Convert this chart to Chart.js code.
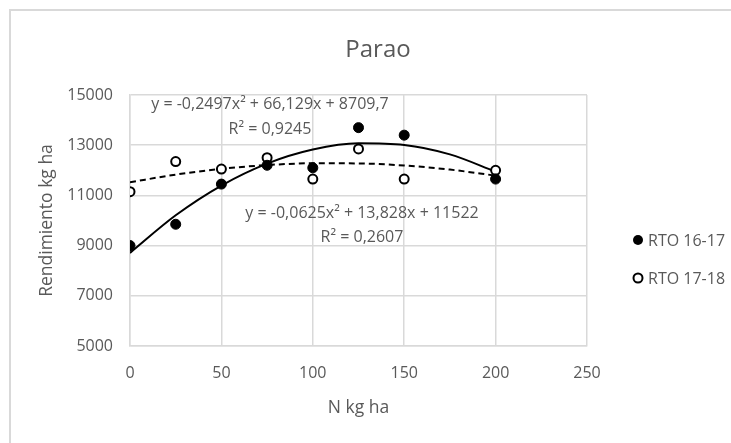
<!DOCTYPE html>
<html>
<head>
<meta charset="utf-8">
<script src="https://cdn.jsdelivr.net/npm/chart.js@4.4.1/dist/chart.umd.min.js"></script>
<style>
  html, body { margin: 0; padding: 0; background: #ffffff; }
  canvas { display: block; }
</style>
</head>
<body>
<canvas id="c" width="731" height="443"></canvas>
<script>
// ---- data ----
const nValues = [0, 25, 50, 75, 100, 125, 150, 200];
const rto1617 = [9000, 9850, 11450, 12200, 12100, 13700, 13400, 11650];
const rto1718 = [11150, 12350, 12050, 12500, 11650, 12850, 11650, 12000];
const trendX = [0, 25, 50, 75, 100, 125, 150, 175, 200];
const trend1617 = [8710, 10207, 11392, 12265, 12826, 13074, 13011, 12635, 11948];
const trend1718 = [11522, 11829, 12057, 12208, 12280, 12274, 12190, 12028, 11788];
const seriesNames = ['RTO 16-17', 'RTO 17-18'];
const chartTitle = 'Parao';
const xTitle = 'N kg ha';
const yTitle = 'Rendimiento kg ha';
const eq1617 = ['y = -0,2497x² + 66,129x + 8709,7', 'R² = 0,9245'];
const eq1718 = ['y = -0,0625x² + 13,828x + 11522', 'R² = 0,2607'];
const xTicks = [0, 50, 100, 150, 200, 250];
const yTicks = [5000, 7000, 9000, 11000, 13000, 15000];

const toXY = (xs, ys) => xs.map((x, i) => ({ x: x, y: ys[i] }));

const TXT = '#595959';
const GRID = '#d9d9d9';
const FONT = "'Open Sans', 'Noto Sans', sans-serif";

const decor = {
  id: 'decor',
  beforeDraw(chart) {
    const ctx = chart.ctx;
    ctx.save();
    ctx.fillStyle = '#ffffff';
    ctx.fillRect(0, 0, chart.width, chart.height);
    ctx.strokeStyle = GRID;
    ctx.lineWidth = 2;
    ctx.strokeRect(10, 10, chart.width + 20, chart.height + 20);
    ctx.restore();
  },
  afterDraw(chart) {
    const ctx = chart.ctx;
    ctx.save();
    ctx.fillStyle = TXT;
    ctx.textBaseline = 'alphabetic';
    // title
    ctx.textAlign = 'center';
    ctx.font = '24px ' + FONT;
    ctx.fillText(chartTitle, 378, 57);
    // equations
    ctx.font = '16px ' + FONT;
    ctx.fillText(eq1617[0], 270, 109);
    ctx.fillText(eq1617[1], 270, 134);
    ctx.fillText(eq1718[0], 362, 217.5);
    ctx.fillText(eq1718[1], 362, 241.5);
    // legend
    ctx.textAlign = 'left';
    ctx.fillText(seriesNames[0], 648, 246);
    ctx.fillText(seriesNames[1], 648, 284);
    ctx.beginPath();
    ctx.arc(638, 240, 5, 0, Math.PI * 2);
    ctx.fillStyle = '#000000';
    ctx.fill();
    ctx.beginPath();
    ctx.arc(638, 278, 4.5, 0, Math.PI * 2);
    ctx.fillStyle = '#ffffff';
    ctx.fill();
    ctx.lineWidth = 2;
    ctx.strokeStyle = '#000000';
    ctx.stroke();
    ctx.restore();
  }
};

new Chart(document.getElementById('c'), {
  type: 'scatter',
  data: {
    datasets: [
      {
        label: seriesNames[0],
        data: toXY(nValues, rto1617),
        pointRadius: 5,
        pointBackgroundColor: '#000000',
        pointBorderColor: '#000000',
        pointBorderWidth: 1,
        showLine: false
      },
      {
        label: seriesNames[1],
        data: toXY(nValues, rto1718),
        pointRadius: 4.5,
        pointBackgroundColor: '#ffffff',
        pointBorderColor: '#000000',
        pointBorderWidth: 2,
        showLine: false
      },
      {
        label: 'trend 16-17',
        data: toXY(trendX, trend1617),
        showLine: true,
        pointRadius: 0,
        borderColor: '#000000',
        borderWidth: 2,
        cubicInterpolationMode: 'monotone',
        fill: false
      },
      {
        label: 'trend 17-18',
        data: toXY(trendX, trend1718),
        showLine: true,
        pointRadius: 0,
        borderColor: '#000000',
        borderWidth: 2,
        borderDash: [6, 4],
        cubicInterpolationMode: 'monotone',
        fill: false
      }
    ]
  },
  options: {
    responsive: false,
    animation: false,
    devicePixelRatio: 1,
    layout: { padding: { left: 0, top: 95, right: 144, bottom: 0 } },
    plugins: {
      legend: { display: false },
      title: { display: false },
      tooltip: { enabled: false }
    },
    scales: {
      x: {
        type: 'linear',
        min: xTicks[0],
        max: xTicks[xTicks.length - 1],
        afterBuildTicks: (s) => { s.ticks = xTicks.map(v => ({ value: v })); },
        afterFit: (s) => { s.height = 97; },
        ticks: { color: TXT, font: { family: FONT, size: 16 }, padding: 18, maxRotation: 0, callback: (v) => String(v) },
        grid: { color: GRID, lineWidth: 1.5, drawTicks: false },
        border: { color: GRID, width: 1.5 },
        title: { display: true, text: xTitle, color: TXT, font: { family: FONT, size: 17.5 }, padding: 24 }
      },
      y: {
        type: 'linear',
        min: yTicks[0],
        max: yTicks[yTicks.length - 1],
        afterBuildTicks: (s) => { s.ticks = yTicks.map(v => ({ value: v })); },
        afterFit: (s) => { s.width = 130; },
        ticks: { color: TXT, font: { family: FONT, size: 16 }, padding: 17, callback: (v) => String(v) },
        grid: { color: GRID, lineWidth: 1.5, drawTicks: false },
        border: { color: GRID, width: 1.5 },
        title: { display: true, text: yTitle, color: TXT, font: { family: FONT, size: 17.5 }, padding: 37 }
      }
    }
  },
  plugins: [decor]
});
</script>
</body>
</html>
